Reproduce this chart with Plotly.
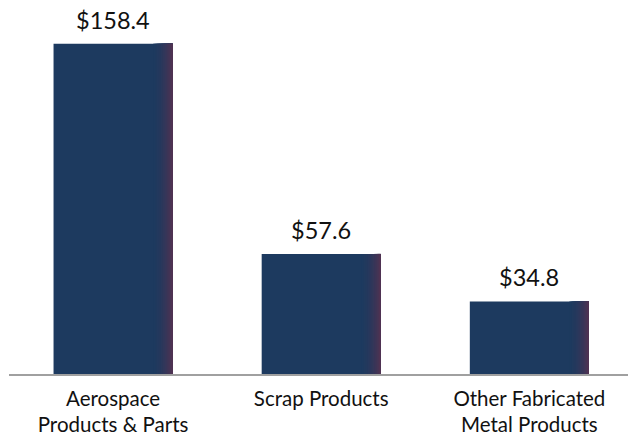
import plotly.graph_objects as go

categories = ["Aerospace<br>Products & Parts", "Scrap Products", "Other Fabricated<br>Metal Products"]
values = [158.4, 57.6, 34.8]
value_labels = ["$158.4", "$57.6", "$34.8"]

BAR_W = 0.572
BASE_COLOR = "#1D3A5F"
EDGE_COLOR = (78, 50, 82)
BASE_RGB = (29, 58, 95)

fig = go.Figure()
fig.add_trace(go.Bar(x=categories, y=values, width=BAR_W, offset=-BAR_W / 2,
                     marker=dict(color=BASE_COLOR, line=dict(width=0)), hoverinfo="skip"))

# right-edge shading: nested strips that all end at the bar's right edge
n = 16
strip_total = 0.1
sw = strip_total / n
for k in range(1, n):
    t = (k / (n - 1)) ** 1.8
    c = tuple(round(BASE_RGB[i] + (EDGE_COLOR[i] - BASE_RGB[i]) * t) for i in range(3))
    off = BAR_W / 2 - strip_total + k * sw
    fig.add_trace(go.Bar(x=categories, y=values, width=BAR_W / 2 - off + 0.0,
                         offset=off,
                         marker=dict(color="rgb(%d,%d,%d)" % c, line=dict(width=0)),
                         hoverinfo="skip"))

for c, v, lab in zip(categories, values, value_labels):
    fig.add_annotation(x=c, y=v, text=lab, showarrow=False, yanchor="bottom",
                       yshift=8, font=dict(family="Lato", size=23.5, color="#111111"))

fig.update_layout(
    width=628, height=436,
    margin=dict(l=9, r=0, t=10, b=60),
    paper_bgcolor="white", plot_bgcolor="white",
    barmode="overlay", showlegend=False,
    font=dict(family="Lato", size=20.5, color="#111111"),
    xaxis=dict(range=[-0.5, 2.474], showline=True, linecolor="#A0A0A0", linewidth=2,
               showgrid=False, ticks="outside", ticklen=5, tickcolor="rgba(0,0,0,0)",
               tickfont=dict(size=20.5)),
    yaxis=dict(range=[0, 174.6], visible=False, showgrid=False),
)

fig.write_html("out.html", config={"displayModeBar": False},
               post_script="document.body.style.margin='0px';")
